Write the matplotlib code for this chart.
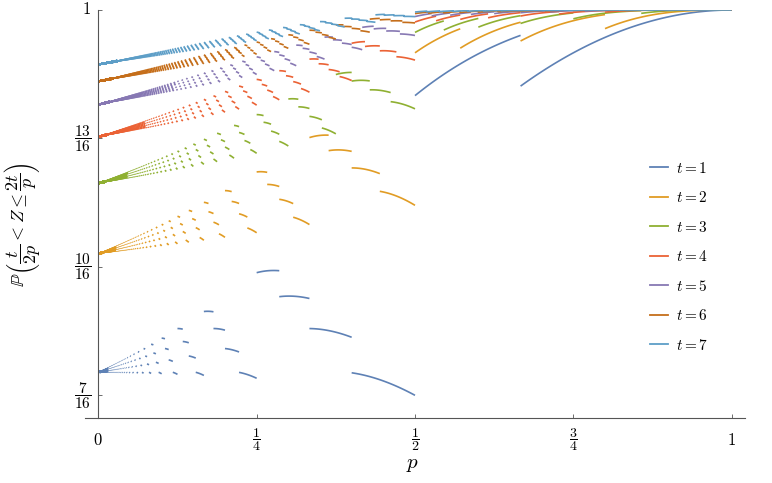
import math

import matplotlib

matplotlib.use("Agg")
import matplotlib.pyplot as plt
import numpy as np
from matplotlib.collections import LineCollection

plt.rcParams["mathtext.fontset"] = "cm"
plt.rcParams["font.family"] = ["DejaVu Serif"]

# number of successes t for each curve, and Mathematica's default palette
T_VALUES = [1, 2, 3, 4, 5, 6, 7]
COLORS = ["#5E81B5", "#E19C24", "#8FB032", "#EB6235", "#8778B3", "#C56E1A", "#5D9EC7"]
LEGEND_LABELS = [f"$t = {t}$" for t in T_VALUES]

Y_TICKS = [7 / 16, 10 / 16, 13 / 16, 1]
Y_TICK_LABELS = [r"$\dfrac{7}{16}$", r"$\dfrac{10}{16}$", r"$\dfrac{13}{16}$", "$1$"]
X_TICKS = [0, 1 / 4, 1 / 2, 3 / 4, 1]
X_TICK_LABELS = ["$0$", r"$\dfrac{1}{4}$", r"$\dfrac{1}{2}$", r"$\dfrac{3}{4}$", "$1$"]

P_MIN = 0.0015
JOIN_JUMP = 0.002  # tiny jumps get drawn through, like the sampled original
AXIS_COLOR = "#555555"


def cdf_trials(n, p, t):
    """P(Z <= n) where Z is the number of trials needed for t successes."""
    if n < t:
        return np.zeros_like(p)
    tail = np.zeros_like(p)
    for j in range(t):
        tail += math.comb(n, j) * p**j * (1 - p) ** (n - j)
    return 1 - tail


def breakpoints(t, p_min):
    pts = {p_min, 1.0}
    k = 1
    while t / (2 * k) >= p_min:
        if t / (2 * k) <= 1:
            pts.add(t / (2 * k))
        k += 1
    k = 2 * t
    while 2 * t / k >= p_min:
        pts.add(2 * t / k)
        k += 1
    return sorted(pts)


def lines_for(t):
    bps = breakpoints(t, P_MIN)
    lines = []
    current = None
    for a, b in zip(bps[:-1], bps[1:]):
        if b - a < 1e-12:
            continue
        mid = 0.5 * (a + b)
        n1 = math.floor(t / (2 * mid))
        n2 = math.floor(2 * t / mid)
        m = max(2, int((b - a) * 1300) + 2)
        p = np.linspace(a, b, m)
        val = cdf_trials(n2, p, t) - cdf_trials(n1, p, t)
        seg = np.column_stack([p, val])
        if current is not None and abs(current[-1][1] - val[0]) < JOIN_JUMP:
            current = np.vstack([current, seg])
        else:
            if current is not None:
                lines.append(current)
            current = seg
    lines.append(current)
    return lines


fig = plt.figure(figsize=(7.72, 4.83), dpi=100)
ax = fig.add_axes([85 / 772, 65 / 483, 660 / 772, 408 / 483])

for t, color, label in zip(T_VALUES, COLORS, LEGEND_LABELS):
    lc = LineCollection(lines_for(t), colors=color, linewidths=1.2)
    ax.add_collection(lc)
    ax.plot([], [], color=color, lw=1.3, label=label)

ax.set_xlim(-0.021, 1.021)
ax.set_ylim(0.4044, 1.0)

ax.spines["left"].set_position(("data", 0))
ax.spines["top"].set_visible(False)
ax.spines["right"].set_visible(False)
for side in ("left", "bottom"):
    ax.spines[side].set_color(AXIS_COLOR)
    ax.spines[side].set_linewidth(0.8)

ax.set_xticks(X_TICKS, X_TICK_LABELS)
ax.set_yticks(Y_TICKS, Y_TICK_LABELS)
ax.tick_params(direction="in", length=3, width=0.6, color=AXIS_COLOR)
ax.tick_params(axis="x", pad=16, labelsize=10)
ax.tick_params(axis="y", pad=5, labelsize=11)
for lab in ax.get_xticklabels() + ax.get_yticklabels():
    lab.set_va("center")
    if "frac" not in lab.get_text():
        lab.set_fontsize(12)

ax.set_xlabel("$p$", fontsize=15, va="center")
ax.xaxis.set_label_coords((413 - 85) / 660, -(464 - 418) / 408)
ax.set_ylabel(
    r"$\mathbb{P}\left(\dfrac{t}{2p} < Z \leq \dfrac{2t}{p}\right)$",
    fontsize=13,
    va="center",
)
ax.yaxis.set_label_coords(-(85 - 22) / 660, (418 - 225) / 408)

ax.legend(
    loc="upper left",
    bbox_to_anchor=((636 - 85) / 660, (418 - 147) / 408),
    frameon=False,
    fontsize=11,
    handlelength=1.2,
    handletextpad=0.5,
    labelspacing=0.95,
)

fig.savefig("out.png", dpi=100)
